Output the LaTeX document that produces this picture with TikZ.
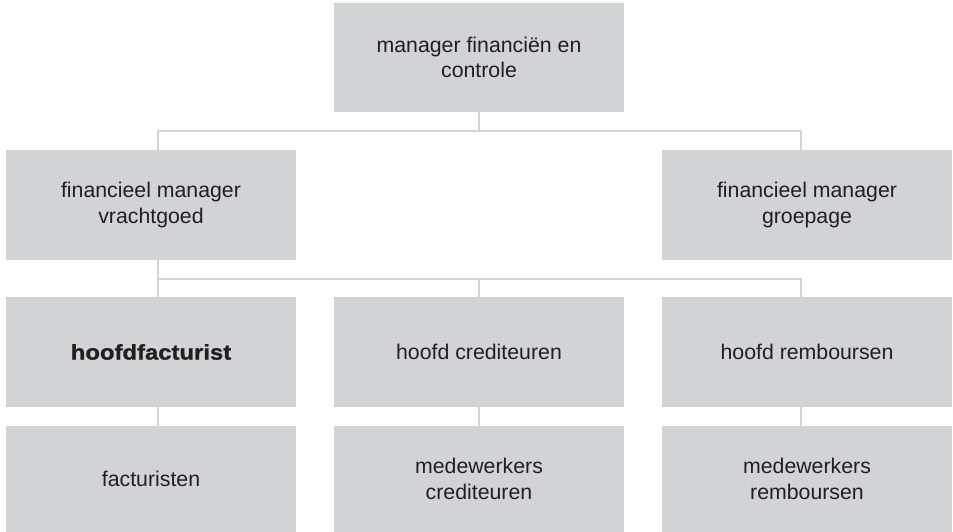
\documentclass[tikz,border=0pt]{standalone}
\usepackage{fontspec}
\setmainfont{Liberation Sans}
\newfontfamily\blackfont[FakeStretch=1.12,FakeBold=1.2]{Liberation Sans Bold}
\usetikzlibrary{calc}
\definecolor{boxgray}{HTML}{D2D3D5}
\definecolor{linegray}{HTML}{D3D4D6}
\definecolor{txt}{HTML}{231F20}
\tikzset{
  orgbox/.style={fill=boxgray,minimum width=290pt,minimum height=109pt,inner sep=0pt,
    align=center,text=txt,font=\fontsize{21.3}{25.5}\selectfont},
  conn/.style={draw=linegray,line width=2pt}
}
\begin{document}
\begin{tikzpicture}[x=1pt,y=-1pt]
\useasboundingbox (0,0) rectangle (953,532);
% boxes
\node[orgbox] (manager) at (479,57.5) {manager financiën en\\controle};
\node[orgbox,minimum height=110pt] (vracht) at (151,205) {financieel manager\\vrachtgoed};
\node[orgbox,minimum height=110pt] (groep) at (807,205) {financieel manager\\groepage};
\node[orgbox,minimum height=110pt,font=\fontsize{21.3}{25.5}\blackfont] (hoofdfact) at (151,352) {hoofdfacturist};
\node[orgbox,minimum height=110pt] (hoofdcred) at (479,352) {hoofd crediteuren};
\node[orgbox,minimum height=110pt] (hoofdremb) at (807,352) {hoofd remboursen};
\node[orgbox,minimum height=106pt] (fact) at (151,479) {facturisten};
\node[orgbox,minimum height=106pt] (medcred) at (479,479) {medewerkers\\crediteuren};
\node[orgbox,minimum height=106pt] (medremb) at (807,479) {medewerkers\\remboursen};
% connectors
\coordinate (busA) at ($(manager.south)+(0,19)$);
\coordinate (busB) at ($([xshift=6.5pt]vracht.south)+(0,19)$);
\draw[conn] (manager.south) -- (busA);
\draw[conn] ([xshift=6.5pt]vracht.north) -- ++(0,-19) -| ([xshift=-6.5pt]groep.north);
\draw[conn] ([xshift=6.5pt]vracht.south) -- ([xshift=6.5pt]hoofdfact.north);
\draw[conn] (busB) -| ([xshift=-6.5pt]hoofdremb.north);
\draw[conn] (busB -| hoofdcred.north) -- (hoofdcred.north);
\foreach \a/\b/\s in {hoofdfact/fact/6.5,hoofdcred/medcred/0,hoofdremb/medremb/-6.5}
  \draw[conn] ([xshift=\s pt]\a.south) -- ([xshift=\s pt]\b.north);
\end{tikzpicture}
\end{document}
